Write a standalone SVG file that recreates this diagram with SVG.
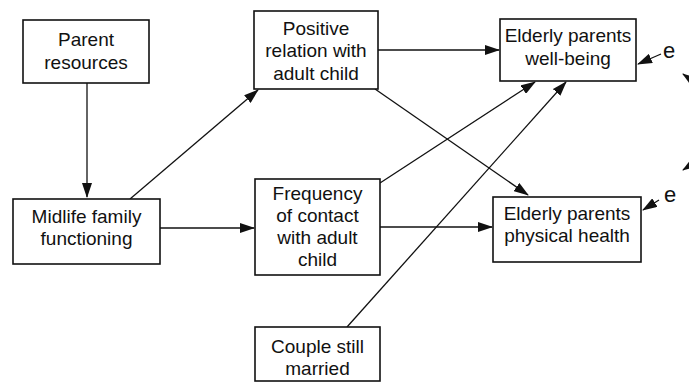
<svg xmlns="http://www.w3.org/2000/svg" width="689" height="383" viewBox="0 0 689 383">
<defs>
<marker id="ah" markerUnits="userSpaceOnUse" markerWidth="15" markerHeight="10" refX="14" refY="5" orient="auto-start-reverse">
<path d="M0,0 L15,5 L0,10 Z" fill="#111"/>
</marker>
<style>
.box{fill:#fff;stroke:#111;stroke-width:1.6}
.t{font-family:"Liberation Sans",Arial,sans-serif;font-size:19px;fill:#111;text-anchor:middle}
.e{font-family:"Liberation Sans",Arial,sans-serif;font-size:22px;fill:#111;text-anchor:middle}
.c{fill:none;stroke:#111;stroke-width:1.3;marker-end:url(#ah)}
</style>
</defs>
<rect width="689" height="383" fill="#fff"/>
<g id="connectors">
<line class="c" x1="87" y1="83" x2="87" y2="197"/>
<line class="c" x1="130" y1="199" x2="258" y2="90"/>
<line class="c" x1="378" y1="50" x2="499" y2="50"/>
<line class="c" x1="160" y1="228" x2="254" y2="228"/>
<line class="c" x1="380" y1="227" x2="492" y2="227"/>
<line class="c" x1="375" y1="89" x2="528" y2="195"/>
<line class="c" x1="380" y1="183" x2="535" y2="82"/>
<line class="c" x1="347" y1="327" x2="566" y2="82"/>
<line class="c" x1="661" y1="54" x2="638" y2="64"/>
<line class="c" x1="659" y1="200" x2="643" y2="210"/>
<path d="M683,74 C720,100 720,145 683,170" fill="none" stroke="#111" stroke-width="1.3" marker-start="url(#ah)" marker-end="url(#ah)"/>
</g>
<g id="parent-resources">
<rect class="box" x="23" y="20" width="126" height="63"/>
<text class="t" x="86" y="46">Parent</text>
<text class="t" x="86" y="69">resources</text>
</g>
<g id="midlife">
<rect class="box" x="13" y="199" width="147" height="65"/>
<text class="t" x="86.5" y="223">Midlife family</text>
<text class="t" x="86.5" y="245">functioning</text>
</g>
<g id="positive-relation">
<rect class="box" x="254" y="11" width="124" height="78"/>
<text class="t" x="316" y="35">Positive</text>
<text class="t" x="316" y="57">relation with</text>
<text class="t" x="316" y="80">adult child</text>
</g>
<g id="frequency">
<rect class="box" x="255" y="179" width="125" height="96"/>
<text class="t" x="317.5" y="200">Frequency</text>
<text class="t" x="317.5" y="222">of contact</text>
<text class="t" x="317.5" y="244">with adult</text>
<text class="t" x="317.5" y="266">child</text>
</g>
<g id="couple">
<rect class="box" x="255" y="327" width="125" height="54"/>
<text class="t" x="317.5" y="353">Couple still</text>
<text class="t" x="317.5" y="375">married</text>
</g>
<g id="well-being">
<rect class="box" x="500" y="19" width="136" height="62"/>
<text class="t" x="568" y="42">Elderly parents</text>
<text class="t" x="568" y="65">well-being</text>
</g>
<g id="physical-health">
<rect class="box" x="493" y="197" width="148" height="65"/>
<text class="t" x="567" y="220">Elderly parents</text>
<text class="t" x="567" y="242">physical health</text>
</g>
<g id="errors">
<text class="e" x="669" y="58">e</text>
<text class="e" x="670" y="202">e</text>
</g>
</svg>
